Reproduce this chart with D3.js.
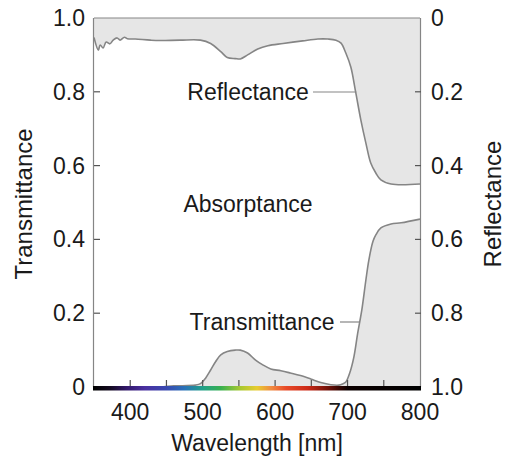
<!DOCTYPE html>
<html><head><meta charset="utf-8">
<script src="https://cdn.jsdelivr.net/npm/d3@7"></script>
<style>body{margin:0;background:#fff}svg{display:block}text{font-family:"Liberation Sans",Arial,sans-serif;fill:#1a1a1a}</style>
</head><body><svg id="c" width="507" height="459"></svg>
<script>
// Data
const wavelengthsR = [350,356,358.5,362.6,366.8,372,376.5,382,386,392,396,407,428,441,469,497,511,525,534,545,552,562,576,590,611,638,659,673,684,691,697.6,704.5,711.4,718.3,725.3,732,739,746,760,800];
// reflectance as read on the right (reversed) axis
const reflectance = [0.053,0.087,0.073,0.081,0.065,0.070,0.060,0.054,0.060,0.052,0.056,0.057,0.060,0.061,0.060,0.060,0.069,0.091,0.107,0.110,0.111,0.100,0.084,0.075,0.069,0.062,0.057,0.057,0.060,0.068,0.095,0.133,0.203,0.276,0.339,0.393,0.420,0.439,0.450,0.450];
const wavelengthsT = [350,440,460,490,497,504,511,518,525,534,545,552,562,573,583,594,608,621,635,649,663,677,688,693,697.6,703,708.7,714,719.7,725.3,729.4,735,739,746,760,774,800];
const transmittance = [0,0,0.003,0.005,0.009,0.024,0.046,0.069,0.087,0.096,0.100,0.100,0.092,0.073,0.060,0.049,0.044,0.038,0.031,0.022,0.012,0.006,0.005,0.008,0.0135,0.038,0.081,0.146,0.209,0.29,0.344,0.394,0.412,0.431,0.442,0.445,0.455];
const xTicks = [400,500,600,700,800];
const xMinorTicks = [350,400,450,500,550,600,650,700,750,800];
const leftTicks = [0,0.2,0.4,0.6,0.8,1.0];
const rightTicks = [0,0.2,0.4,0.6,0.8,1.0];
const spectrumWl = [350,372,395,420,450,475,500,525,552,575,595,615,645,675,700,800];
const spectrumCol = ["#000000","#140a20","#32186a","#4a30a0","#3848b0","#2a72b8","#20a088","#38b050","#a8c830","#e8cc30","#f08a40","#e84a28","#cc2a18","#6a1008","#0c0000","#000000"];

const svg = d3.select("#c");
const x = d3.scaleLinear().domain([350,800]).range([94,420]);
const yL = d3.scaleLinear().domain([0,1]).range([387,18]);
const yR = d3.scaleLinear().domain([0,1]).range([18,387]);
const fill = "#e6e6e6", lineCol = "#858585";
const crv = d3.curveCatmullRom.alpha(0.5);

const rData = wavelengthsR.map((w,i)=>({w, v:reflectance[i]}));
const tData = wavelengthsT.map((w,i)=>({w, v:transmittance[i]}));
svg.append("path").datum(rData)
  .attr("d", d3.area().x(d=>x(d.w)).y0(yR(0)).y1(d=>yR(d.v)).curve(crv))
  .attr("fill", fill);
svg.append("path").datum(tData)
  .attr("d", d3.area().x(d=>x(d.w)).y0(yL(0)).y1(d=>Math.min(yL(0),yL(d.v))).curve(crv))
  .attr("fill", fill);
svg.append("path").datum(rData)
  .attr("d", d3.line().x(d=>x(d.w)).y(d=>yR(d.v)).curve(crv))
  .attr("fill","none").attr("stroke",lineCol).attr("stroke-width",1.6);
svg.append("path").datum(tData)
  .attr("d", d3.line().x(d=>x(d.w)).y(d=>yL(d.v)).curve(crv))
  .attr("fill","none").attr("stroke",lineCol).attr("stroke-width",1.6);

// frame
svg.append("line").attr("x1",x(350)).attr("x2",x(800)).attr("y1",yL(1)).attr("y2",yL(1)).attr("stroke",lineCol).attr("stroke-width",1.2);
svg.append("line").attr("x1",x(350)-0.5).attr("x2",x(350)-0.5).attr("y1",yL(1)).attr("y2",yL(0)).attr("stroke",lineCol).attr("stroke-width",1.2);
svg.append("line").attr("x1",x(800)+0.5).attr("x2",x(800)+0.5).attr("y1",yL(1)).attr("y2",yL(0)).attr("stroke",lineCol).attr("stroke-width",1.2);

// spectrum bar
const grad = svg.append("defs").append("linearGradient").attr("id","spec")
  .attr("gradientUnits","userSpaceOnUse").attr("x1",x(350)).attr("x2",x(800)).attr("y1",0).attr("y2",0);
spectrumWl.forEach((w,i)=>grad.append("stop").attr("offset",(w-350)/450).attr("stop-color",spectrumCol[i]));
svg.append("rect").attr("x",x(350)-1).attr("y",386).attr("width",x(800)-x(350)+2).attr("height",4.5).attr("fill","url(#spec)");

// ticks
const tickCol = "#555";
svg.selectAll(".bt").data(xMinorTicks.slice(1,-1)).join("line")
  .attr("x1",d=>x(d)).attr("x2",d=>x(d)).attr("y1",386).attr("y2",380).attr("stroke",tickCol).attr("stroke-width",1.2);
svg.selectAll(".lt").data(leftTicks.slice(1,-1)).join("line")
  .attr("x1",x(350)).attr("x2",x(350)+6).attr("y1",d=>yL(d)).attr("y2",d=>yL(d)).attr("stroke",tickCol).attr("stroke-width",1.2);
svg.selectAll(".rt").data(rightTicks.slice(1,-1)).join("line")
  .attr("x1",x(800)+1).attr("x2",x(800)-5).attr("y1",d=>yR(d)).attr("y2",d=>yR(d)).attr("stroke",tickCol).attr("stroke-width",1.2);

const fs = 23;
svg.selectAll(".xl").data(xTicks).join("text")
  .attr("x",d=>x(d)).attr("y",420).attr("text-anchor","middle").attr("font-size",fs).text(d=>d);
svg.selectAll(".yl").data(leftTicks).join("text")
  .attr("x",85).attr("y",d=>yL(d)+8).attr("text-anchor","end").attr("font-size",fs).text(d=>d===0?"0":d.toFixed(1));
svg.selectAll(".yr").data(rightTicks).join("text")
  .attr("x",431).attr("y",d=>yR(d)+8).attr("text-anchor","start").attr("font-size",fs).text(d=>d===0?"0":d.toFixed(1));

svg.append("text").attr("x",257).attr("y",451).attr("text-anchor","middle").attr("font-size",fs).text("Wavelength [nm]");
svg.append("text").attr("transform","translate(32,204) rotate(-90)").attr("text-anchor","middle").attr("font-size",24).text("Transmittance");
svg.append("text").attr("transform","translate(501,204) rotate(-90)").attr("text-anchor","middle").attr("font-size",24).text("Reflectance");

// in-plot labels
svg.append("text").attr("x",248).attr("y",100).attr("text-anchor","middle").attr("font-size",fs).text("Reflectance");
svg.append("line").attr("x1",313).attr("x2",x(712)).attr("y1",92).attr("y2",92).attr("stroke",lineCol).attr("stroke-width",1.2);
svg.append("text").attr("x",248).attr("y",212).attr("text-anchor","middle").attr("font-size",fs).text("Absorptance");
svg.append("text").attr("x",262).attr("y",330).attr("text-anchor","middle").attr("font-size",fs).text("Transmittance");
svg.append("line").attr("x1",340).attr("x2",x(716)).attr("y1",322).attr("y2",322).attr("stroke",lineCol).attr("stroke-width",1.2);
</script></body></html>
